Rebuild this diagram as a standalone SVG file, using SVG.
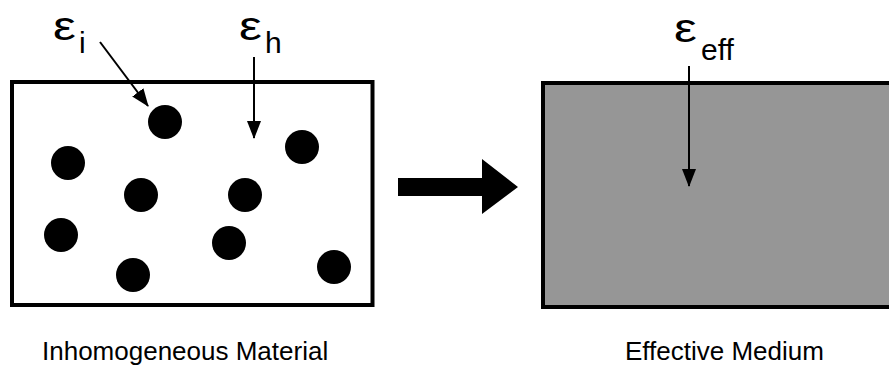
<svg xmlns="http://www.w3.org/2000/svg" width="889" height="367" viewBox="0 0 889 367">
<style>
.box{stroke:#000;stroke-width:4}
.dot{fill:#000}
.eps{font-family:"Liberation Sans",Arial,sans-serif;font-size:41px;fill:#000}
.sub{font-family:"Liberation Sans",Arial,sans-serif;font-size:30px;fill:#000}
.lbl{font-family:"Liberation Sans",Arial,sans-serif;font-size:26px;fill:#000}
.ptr{stroke:#000;stroke-width:2;fill:none}
</style>
<defs>
<marker id="ah" viewBox="0 0 18 14" refX="17" refY="7" markerWidth="18" markerHeight="14" markerUnits="userSpaceOnUse" orient="auto">
<path d="M0,0 L18,7 L0,14 Z" fill="#000"/>
</marker>
</defs>
<rect width="889" height="367" fill="#fff"/>
<g id="inhomogeneous">
<rect class="box" x="12" y="82" width="360.5" height="223" fill="#fff"/>
<circle class="dot" cx="165" cy="122" r="17"/>
<circle class="dot" cx="68" cy="163" r="17"/>
<circle class="dot" cx="141" cy="195" r="17"/>
<circle class="dot" cx="245" cy="195" r="17"/>
<circle class="dot" cx="302" cy="147" r="17"/>
<circle class="dot" cx="61" cy="235" r="17"/>
<circle class="dot" cx="229" cy="243" r="17"/>
<circle class="dot" cx="133" cy="275" r="17"/>
<circle class="dot" cx="334" cy="267" r="17"/>
<text class="lbl" x="42" y="360">Inhomogeneous Material</text>
</g>
<g id="eps-i">
<text class="eps" transform="translate(53,40) scale(1.25,1)">ε</text>
<text class="sub" x="79" y="53">i</text>
</g>
<g id="eps-h">
<text class="eps" transform="translate(239,40) scale(1.25,1)">ε</text>
<text class="sub" x="265" y="53">h</text>
</g>
<g id="effective">
<rect class="box" x="543" y="83" width="350" height="224" fill="#969696"/>
<text class="lbl" x="625" y="360">Effective Medium</text>
</g>
<g id="eps-eff">
<text class="eps" transform="translate(674,42) scale(1.25,1)">ε</text>
<text class="sub" x="701" y="60">eff</text>
</g>
<g id="connectors">
<line class="ptr" x1="100" y1="42" x2="148" y2="106" marker-end="url(#ah)"/>
<line class="ptr" x1="254" y1="57" x2="254" y2="138" marker-end="url(#ah)"/>
<line class="ptr" x1="689" y1="66" x2="689" y2="186" marker-end="url(#ah)"/>
<path d="M398,178 H482 V159 L518,187 L482,214 V196 H398 Z" fill="#000"/>
</g>
</svg>
